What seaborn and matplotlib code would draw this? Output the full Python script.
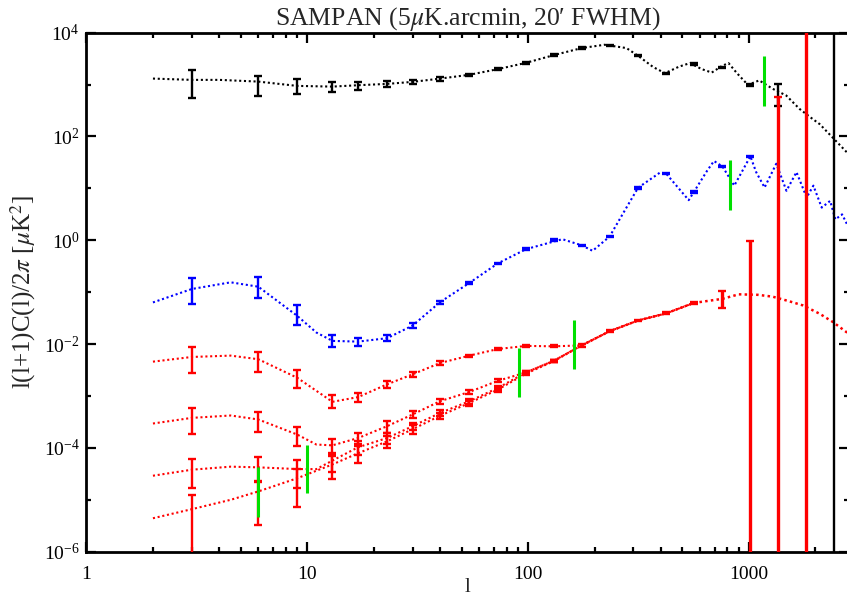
import matplotlib
matplotlib.use("Agg")
import matplotlib.pyplot as plt
import matplotlib.ticker as mticker
import seaborn as sns

# --- DATA ---
# TT band powers (black)
tt_l = [3, 6, 9, 13, 17, 23, 30, 40, 54, 73, 98, 131, 175, 234, 315, 422, 563, 759, 1016, 1355, 2418]
tt_val = [1235, 1042, 961, 932, 950, 1035, 1125, 1293, 1541, 1986, 2630, 3705, 5058, 5690, 3589,
          1633, 2478, 2133, 986, 703, 93]
tt_err = [689, 430, 310, 210, 162, 145, 108, 98, 46, 60, 80, 110, 150, 170, 110,
          50, 75, 65, 30, 315, 1e6]

tt_curve_l = [2, 3, 4, 6, 9, 13, 17, 23, 30, 40, 54, 73, 98, 131, 175, 222, 279, 315, 369, 417,
              484, 541, 612, 679, 757, 809, 883, 990, 1114, 1282, 1476, 1698, 1919, 2094, 2410, 2773, 2939]
tt_curve_v = [1306, 1233, 1233, 1143, 944, 915, 973, 1032, 1128, 1306, 1541, 1986, 2630, 3705, 5058,
              5858, 5058, 3589, 2172, 1661, 2228, 2594, 1986, 1706, 2300, 2594, 1661, 986, 1205,
              830, 617, 339, 227, 173, 93, 50, 31]

# EE band powers (blue)
ee_l = [3, 6, 9, 13, 17, 23, 30, 40, 54, 73, 98, 131, 175, 234, 315, 422, 563, 759, 1016]
ee_val = [0.122, 0.136, 0.0404, 0.01195, 0.0111, 0.0133, 0.0230, 0.064, 0.149, 0.36, 0.676, 1.01,
          0.796, 1.18, 10.3, 19.3, 8.48, 26.5, 41.6]
ee_err = [0.063, 0.057, 0.0169, 0.0031, 0.0019, 0.0018, 0.0027, 0.0047, 0.006, 0.013, 0.024, 0.035,
          0.028, 0.04, 0.35, 0.65, 0.3, 0.9, 1.4]

ee_curve_l = [2, 3, 4.5, 6, 9, 11, 13, 17, 23, 30, 40, 54, 73, 98, 143, 175, 196, 234, 279, 315,
              396, 422, 534, 563, 648, 695, 759, 859, 1016, 1079, 1178, 1331, 1480, 1643, 1827,
              1960, 2138, 2335, 2464, 2644, 2938]
ee_curve_v = [0.0635, 0.1153, 0.155, 0.1277, 0.0351, 0.0167, 0.01153, 0.01117, 0.0130, 0.0228,
              0.0646, 0.149, 0.36, 0.676, 1.05, 0.80, 0.627, 1.18, 4.27, 10.3, 20.2, 19.3, 5.94,
              8.48, 22.1, 33.7, 26.5, 11.3, 41.6, 20.6, 10.4, 29.9, 9.0, 20.6, 6.7, 11.3, 4.27,
              5.75, 2.53, 3.16, 1.29]

# BB band powers (red): four models at low l, merged (lensing) at high l
bb_l_low = [3, 6, 9, 13, 17, 23, 30, 40, 54, 73, 98, 131]
bb_a_val = [0.00582, 0.00505, 0.00229, 0.000816, 0.000955, 0.00169, 0.00263, 0.00435, 0.006,
            0.0080, 0.0092, 0.0091]
bb_a_err = [0.00301, 0.00211, 0.00085, 0.000224, 0.000182, 0.00025, 0.00031, 0.00038, 0.0003,
            0.0003, 0.00035, 0.00035]
bb_b_val = [0.00038, 0.000346, 0.000182, 0.000109, 0.000153, 0.00026, 0.000445, 0.000774, 0.00119,
            0.00196, 0.00285, 0.0048]
bb_b_err = [0.000195, 0.000143, 0.0000715, 0.0000373, 0.0000366, 0.0000667, 0.000066, 0.000085,
            0.0001, 0.00012, 0.00015, 0.0002]
bb_c_val = [3.9e-5, 4.4e-5, 3.7e-5, 5.7e-5, 1.03e-4, 1.55e-4, 2.62e-4, 4.73e-4, 7.87e-4, 1.43e-3,
            2.85e-3, 4.8e-3]
bb_c_err = [2.2e-5, 2.2e-5, 2.04e-5, 2.3e-5, 3.0e-5, 3.5e-5, 4.5e-5, 6e-5, 8e-5, 1.2e-4, 2e-4, 2e-4]
bb_d_val = [6.6e-6, 1.3e-5, 2.36e-5, 4.8e-5, 7.9e-5, 1.34e-4, 2.3e-4, 4.2e-4, 7.3e-4, 1.33e-3,
            2.71e-3, 4.7e-3]
bb_d_err = [6.0e-6, 9.7e-6, 1.62e-5, 2.3e-5, 2.8e-5, 3.3e-5, 4.3e-5, 5.5e-5, 7.5e-5, 1.1e-4,
            2e-4, 2e-4]

bb_l_high = [175, 234, 315, 422, 563, 759, 1016, 1355, 1810]
bb_val_high = [0.00944, 0.0177, 0.0285, 0.0391, 0.0621, 0.0768, 0.085, 0.08, 0.06]
bb_err_high = [0.0005, 0.0008, 0.0012, 0.0016, 0.0026, 0.0264, 0.885, 571, 5e4]

bb_a_curve_l = [2, 3, 4.5, 6, 9, 13, 17, 23, 30, 40, 54, 73, 98, 131]
bb_a_curve_v = [0.00459, 0.00565, 0.0060, 0.00511, 0.00225, 0.000773, 0.000953, 0.00168, 0.00262,
                0.00433, 0.00597, 0.00804, 0.00923, 0.00906]
bb_b_curve_l = [2, 3, 4.5, 6, 9, 11, 13, 17, 23, 30, 40, 54, 73, 98, 131]
bb_b_curve_v = [0.000295, 0.000379, 0.000421, 0.000353, 0.000181, 0.000116, 0.000112, 0.000155,
                0.000262, 0.000441, 0.000797, 0.00119, 0.00196, 0.00285, 0.0048]
bb_c_curve_l = [2, 3, 4.5, 6, 9, 11, 13, 17, 23, 30, 40, 54, 73, 98, 131]
bb_c_curve_v = [2.91e-5, 3.80e-5, 4.35e-5, 4.22e-5, 3.91e-5, 3.9e-5, 5.7e-5, 1.03e-4, 1.55e-4,
                2.62e-4, 4.73e-4, 7.87e-4, 1.43e-3, 2.85e-3, 4.8e-3]
bb_d_curve_l = [2, 3, 4.5, 6, 9, 13, 17, 23, 30, 40, 54, 73, 98, 131]
bb_d_curve_v = [4.41e-6, 6.6e-6, 1.0e-5, 1.45e-5, 2.6e-5, 4.8e-5, 7.9e-5, 1.34e-4, 2.29e-4,
                4.18e-4, 7.29e-4, 1.33e-3, 2.71e-3, 4.7e-3]
# lensing tail shared by all four BB models
bb_lens_l = [175, 234, 315, 422, 563, 759, 900, 1100, 1282, 1504, 1757, 2094, 2410, 2773, 2939]
bb_lens_v = [0.00944, 0.0177, 0.0285, 0.0391, 0.0621, 0.0745, 0.091, 0.089, 0.082, 0.068, 0.0557,
             0.0384, 0.0264, 0.0169, 0.014]
N_SHARED = 5  # models overlap up to l~563, the rest of the tail is drawn once

# green markers
green_l = [6, 10, 91, 162, 822, 1165]
green_lo = [4.75e-6, 1.34e-5, 9.49e-4, 3.28e-3, 3.84, 394]
green_hi = [4.22e-5, 1.16e-4, 8.29e-3, 2.87e-2, 35.7, 3557]

BLACK, BLUE, RED, GREEN = "#000000", "#0000ff", "#ff0000", "#00e000"
DOT = (0, (1, 1.3))


def curve(ax, l, v, color, lw=1.5):
    sns.lineplot(x=l, y=v, ax=ax, color=color, lw=lw, linestyle=DOT, sort=False, zorder=2)


def points(ax, l, v, err, color, lw=1.7):
    ax.errorbar(l, v, yerr=err, fmt="none", ecolor=color, elinewidth=lw,
                capsize=2.6, capthick=1.7, zorder=3)


def main():
    sns.set_style("ticks")
    plt.rcParams["font.family"] = ["Liberation Serif", "DejaVu Serif"]
    plt.rcParams["mathtext.fontset"] = "stix"

    fig = plt.figure(figsize=(8.47, 6.0), dpi=100)
    ax = fig.add_axes([0.1021, 0.0805, 0.9002, 0.865])
    ax.set_xscale("log")
    ax.set_yscale("log")

    # theory curves
    curve(ax, tt_curve_l, tt_curve_v, BLACK)
    curve(ax, ee_curve_l, ee_curve_v, BLUE)
    for cl, cv in [(bb_a_curve_l, bb_a_curve_v), (bb_b_curve_l, bb_b_curve_v),
                   (bb_c_curve_l, bb_c_curve_v), (bb_d_curve_l, bb_d_curve_v)]:
        curve(ax, cl + bb_lens_l[:N_SHARED], cv + bb_lens_v[:N_SHARED], RED)
    curve(ax, bb_lens_l[N_SHARED - 1:], bb_lens_v[N_SHARED - 1:], RED, lw=1.8)

    # band powers
    points(ax, tt_l, tt_val, tt_err, BLACK)
    points(ax, ee_l, ee_val, ee_err, BLUE)
    for v, e in [(bb_a_val, bb_a_err), (bb_b_val, bb_b_err), (bb_c_val, bb_c_err), (bb_d_val, bb_d_err)]:
        points(ax, bb_l_low, v, e, RED)
    points(ax, bb_l_high, bb_val_high, bb_err_high, RED, lw=2.4)

    ax.vlines(green_l, green_lo, green_hi, colors=GREEN, lw=2.2, zorder=4)

    ax.set_xlim(1, 2840)
    ax.set_ylim(1e-6, 1e4)

    ax.yaxis.set_major_locator(mticker.LogLocator(base=100))
    ax.yaxis.set_minor_locator(mticker.LogLocator(base=10, subs=(1.0,), numticks=20))
    ax.yaxis.set_major_formatter(mticker.LogFormatterMathtext())
    ax.yaxis.set_minor_formatter(mticker.NullFormatter())
    ax.xaxis.set_major_locator(mticker.LogLocator(base=10))
    ax.xaxis.set_minor_locator(mticker.LogLocator(base=10, subs=range(2, 10), numticks=20))
    ax.xaxis.set_major_formatter(mticker.FuncFormatter(lambda v, _: f"{v:g}"))
    ax.xaxis.set_minor_formatter(mticker.NullFormatter())

    ax.tick_params(which="both", direction="in", top=True, right=True, width=1.6,
                   colors="black", labelsize=14)
    ax.tick_params(which="major", length=7.5)
    ax.tick_params(which="minor", length=3.8)
    ax.tick_params(axis="x", which="major", pad=10)
    ax.tick_params(axis="y", which="major", pad=5)
    for sp in ax.spines.values():
        sp.set_linewidth(2.0)
        sp.set_color("black")

    ax.set_title("SAMPAN (5$\\mu$K.arcmin, 20\u2032 FWHM)", fontsize=18.5, pad=1.5)
    ax.set_ylabel(r"l(l+1)C(l)/2$\pi$ [$\mu$K$^2$]", fontsize=18, labelpad=4)
    ax.set_xlabel("l", fontsize=15)
    ax.xaxis.set_label_coords(0.5, -0.05)

    fig.savefig("out.png", dpi=100)
    plt.close(fig)


if __name__ == "__main__":
    main()
